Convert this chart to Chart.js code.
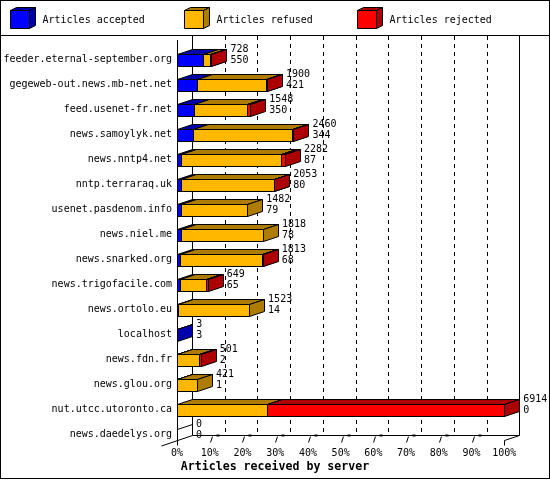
<!DOCTYPE html>
<html>
<head>
<meta charset="utf-8">
<script src="https://cdn.jsdelivr.net/npm/chart.js@4"></script>
<style>
  html, body { margin: 0; padding: 0; background: #fff; }
  canvas { display: block; }
</style>
</head>
<body>
<canvas id="chart" width="550" height="480"></canvas>
<script>
// data
const servers = [
  "feeder.eternal-september.org", "gegeweb-out.news.mb-net.net", "feed.usenet-fr.net",
  "news.samoylyk.net", "news.nntp4.net", "nntp.terraraq.uk", "usenet.pasdenom.info",
  "news.niel.me", "news.snarked.org", "news.trigofacile.com", "news.ortolo.eu",
  "localhost", "news.fdn.fr", "news.glou.org", "nut.utcc.utoronto.ca", "news.daedelys.org"
];
const accepted = [550, 421, 350, 344, 87, 80, 79, 78, 68, 65, 14, 3, 2, 1, 0, 0];
const refused  = [140, 1451, 1135, 2078, 2105, 1963, 1403, 1740, 1725, 544, 1509, 0, 469, 420, 1907, 0];
const rejected = [38, 28, 63, 38, 90, 10, 0, 0, 20, 40, 0, 0, 30, 0, 5007, 0];
const seriesNames = ["Articles accepted", "Articles refused", "Articles rejected"];
const xMax = 6914; // = 100%
const xTickLabels = ["0%", "10%", "20%", "30%", "40%", "50%", "60%", "70%", "80%", "90%", "100%"];
const xTitle = "Articles received by server";

const colors = ["#0000FF", "#FFB700", "#FF0000"];
const darks  = ["#0000AD", "#AD7C00", "#AD0000"];
const DX = 15, DY = -5;
const FONT = "DejaVu Sans Mono";

const p = v => Math.round(v) + 0.5;

function poly(ctx, pts, fill) {
  ctx.beginPath();
  pts.forEach(([px, py], i) => i ? ctx.lineTo(px, py) : ctx.moveTo(px, py));
  ctx.closePath();
  if (fill) { ctx.fillStyle = fill; ctx.fill(); }
  ctx.stroke();
}
function line(ctx, ax, ay, bx, by) {
  ctx.beginPath(); ctx.moveTo(ax, ay); ctx.lineTo(bx, by); ctx.stroke();
}

const bars3d = {
  id: "bars3d",
  beforeDraw(chart) {
    const ctx = chart.ctx;
    ctx.save();
    ctx.fillStyle = "#fff";
    ctx.fillRect(0, 0, chart.width, chart.height);
    ctx.restore();
  },
  beforeDatasetsDraw(chart) {
    const { ctx, chartArea: a, scales: { x, y } } = chart;
    const x0 = x.getPixelForValue(0), x1 = x.getPixelForValue(xMax);
    const fy = p(a.bottom - 7);
    ctx.save();
    ctx.strokeStyle = "#000";
    ctx.lineWidth = 1;

    // back wall grid
    ctx.setLineDash([4, 4]);
    x.ticks.forEach((t, i) => {
      if (i === 0 || i === x.ticks.length - 1) return;
      const gx = p(x.getPixelForValue(t.value) + DX);
      line(ctx, gx, 36, gx, fy + DY);
    });
    ctx.setLineDash([]);
    line(ctx, p(x0 + DX), 35, p(x0 + DX), fy + DY);
    line(ctx, p(x1 + DX), 35, p(x1 + DX), fy + DY);
    line(ctx, p(x0 + DX), fy + DY, p(x1 + DX), fy + DY);
    line(ctx, p(x0), 40, p(x0), fy);
    line(ctx, p(x0) - 16, fy + 5.5, p(x0) + DX, fy + DY);
    line(ctx, p(x1), fy, p(x1) + DX, fy + DY);

    // ticks on the floor
    ctx.fillStyle = "#000";
    x.ticks.forEach((t, i) => {
      const tx = p(x.getPixelForValue(t.value));
      if (i === 0 || i === x.ticks.length - 1) {
        line(ctx, tx, fy, tx, fy + 5);
      } else {
        line(ctx, tx, fy + 2, tx + 2, fy - 4);
        ctx.fillRect(tx + 6, fy - 6, 3, 2);
      }
    });

    // bars
    const metas = chart.data.datasets.map((ds, i) => chart.getDatasetMeta(i));
    servers.forEach((s, r) => {
      let any = false;
      metas.forEach((m, d) => {
        const v = chart.data.datasets[d].data[r];
        if (!v) return;
        any = true;
        const el = m.data[r].getProps(["x", "y", "base", "height"], true);
        const l = p(el.base), rr = p(el.x);
        const t = p(el.y - el.height / 2), b = p(el.y + el.height / 2);
        poly(ctx, [[l, t], [rr, t], [rr, b], [l, b]], colors[d]);
        poly(ctx, [[l, t], [rr, t], [rr + DX, t + DY], [l + DX, t + DY]], darks[d]);
        poly(ctx, [[rr, t], [rr + DX, t + DY], [rr + DX, b + DY], [rr, b]], darks[d]);
      });
      if (!any) {
        const t = p(y.getPixelForValue(r) - 6);
        line(ctx, p(x0), t, p(x0) + DX, t + DY);
      }
    });
    ctx.restore();
    return false;
  },
  afterDraw(chart) {
    const { ctx, scales: { x, y } } = chart;
    ctx.save();
    ctx.fillStyle = "#000";
    ctx.strokeStyle = "#000";
    ctx.lineWidth = 1;

    // value labels: total / accepted
    ctx.font = "10px '" + FONT + "'";
    ctx.textAlign = "left";
    ctx.textBaseline = "middle";
    servers.forEach((s, r) => {
      const total = accepted[r] + refused[r] + rejected[r];
      const lx = x.getPixelForValue(total) + 19;
      const yc = y.getPixelForValue(r);
      ctx.fillText(String(total), lx, yc - 10);
      ctx.fillText(String(accepted[r]), lx, yc + 1);
    });

    // legend
    chart.data.datasets.forEach((ds, i) => {
      const l = Math.round(10 + i * 173.5) + 0.5, t = 10.5, w = 19, h = 18;
      poly(ctx, [[l, t], [l + w, t], [l + w, t + h], [l, t + h]], colors[i]);
      poly(ctx, [[l, t], [l + w, t], [l + w + 6, t - 3], [l + 6, t - 3]], darks[i]);
      poly(ctx, [[l + w, t], [l + w + 6, t - 3], [l + w + 6, t + h - 3], [l + w, t + h]], darks[i]);
      ctx.fillStyle = "#000";
      ctx.fillText(ds.label, l + 32, 20);
    });
    line(ctx, 0, 35.5, chart.width, 35.5);

    // axis title
    ctx.font = "bold 11.6px '" + FONT + "'";
    ctx.textAlign = "center";
    ctx.fillText(xTitle, chart.width / 2, 466.5);

    ctx.strokeRect(0.5, 0.5, chart.width - 1, 478);
    ctx.restore();
  }
};

Chart.defaults.font.family = FONT;
Chart.defaults.font.size = 10;
Chart.defaults.color = "#000";

const chart = new Chart(document.getElementById("chart"), {
  type: "bar",
  data: {
    labels: servers,
    datasets: [accepted, refused, rejected].map((vals, i) => ({
      label: seriesNames[i],
      data: vals,
      backgroundColor: colors[i],
      barThickness: 12
    }))
  },
  options: {
    indexAxis: "y",
    responsive: false,
    animation: false,
    layout: { padding: { top: 47, right: 45.7, bottom: 20, left: 0 } },
    plugins: { legend: { display: false }, tooltip: { enabled: false } },
    scales: {
      y: {
        stacked: true,
        offset: true,
        grid: { display: false, drawTicks: false },
        border: { display: false },
        ticks: { autoSkip: false, padding: 5, color: "#000" },
        afterFit: s => { s.width = 177; }
      },
      x: {
        stacked: true,
        min: 0,
        max: xMax,
        grid: { display: false, drawTicks: false },
        border: { display: false },
        afterBuildTicks: s => {
          s.ticks = xTickLabels.map((lab, i) => ({ value: xMax * i / (xTickLabels.length - 1) }));
        },
        ticks: {
          autoSkip: false,
          maxRotation: 0,
          padding: 0,
          color: "#000",
          callback: (v, i) => xTickLabels[i]
        },
        afterFit: s => { s.height = 13; }
      }
    }
  },
  plugins: [bars3d]
});
</script>
</body>
</html>
